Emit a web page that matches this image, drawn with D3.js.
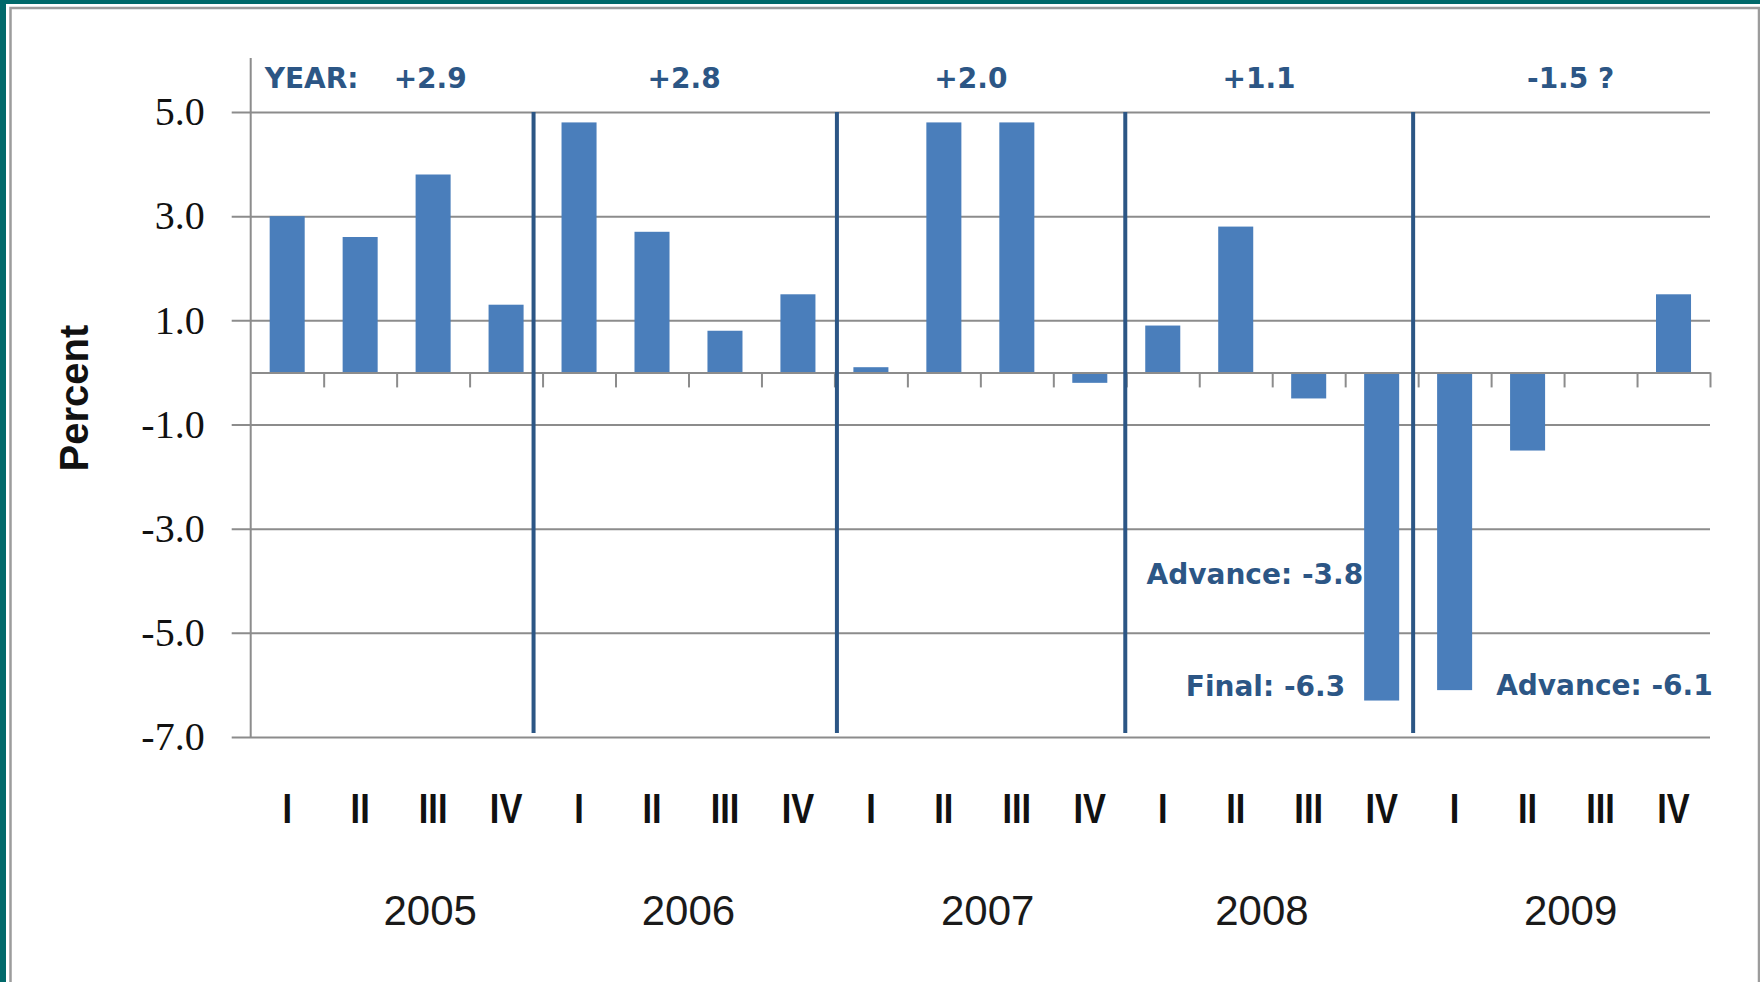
<!DOCTYPE html>
<html>
<head>
<meta charset="utf-8">
<script src="https://cdn.jsdelivr.net/npm/d3@7"></script>
<style>
  body { margin: 0; background: #fff; }
  svg { display: block; }
</style>
</head>
<body>
<svg id="chart"></svg>
<script>
// quarterly real GDP growth, annualized percent
const years = ["2005", "2006", "2007", "2008", "2009"];
const quarters = ["I", "II", "III", "IV"];
const growth = [3.0, 2.6, 3.8, 1.3, 4.8, 2.7, 0.8, 1.5, 0.1, 4.8, 4.8, -0.2, 0.9, 2.8, -0.5, -6.3, -6.1, -1.5, null, 1.5];
const yearTotals = ["+2.9", "+2.8", "+2.0", "+1.1", "-1.5 ?"];
const yTicks = [5, 3, 1, -1, -3, -5, -7];
const yTickLabels = ["5.0", "3.0", "1.0", "-1.0", "-3.0", "-5.0", "-7.0"];
const noteText = ["Advance: -3.8", "Final: -6.3", "Advance: -6.1"];
const noteValue = [-3.8, -6.3, -6.1];
const noteQuarter = [15, 15, 16];

const W = 1760, H = 982;
const plotLeft = 250.7, plotRight = 1710, plotTop = 112, plotBottom = 737;
const blue = "#4a7ebb", navy = "#2c5685", grid = "#8c8c8c";

const keys = [];
years.forEach((yr) => quarters.forEach((q) => keys.push(yr + "-" + q)));

const svg = d3.select("#chart").attr("width", W).attr("height", H);

// frame
svg.append("rect").attr("width", W).attr("height", H).attr("fill", "#00696a");
svg.append("rect").attr("x", 6).attr("y", 4).attr("width", W - 6).attr("height", H - 4).attr("fill", "#fff");
svg.append("path")
  .attr("d", `M10.5,${H + 5}V8H1759V${H + 5}`)
  .attr("fill", "none").attr("stroke", "#9c9c9c").attr("stroke-width", 2.5);

const x = d3.scaleBand().domain(keys).range([plotLeft, plotRight]).paddingInner(0.52).paddingOuter(0.26);
const xi = d3.scaleLinear().domain([0, keys.length]).range([plotLeft, plotRight]);
const y = d3.scaleLinear().domain([-7, 5]).range([plotBottom, plotTop]);

// gridlines + y labels
const gy = svg.append("g")
  .attr("transform", `translate(${plotLeft - 19},0)`)
  .call(d3.axisLeft(y).tickValues(yTicks)
    .tickFormat((d, i) => yTickLabels[i])
    .tickSize(-(plotRight - plotLeft + 19)).tickPadding(27));
gy.select(".domain").remove();
gy.selectAll(".tick line").attr("stroke", grid).attr("stroke-width", 2);
gy.selectAll(".tick text")
  .attr("fill", "#111")
  .style("font-family", "'Liberation Serif', serif")
  .style("font-size", "40px");

// left axis line
svg.append("line")
  .attr("x1", plotLeft).attr("x2", plotLeft).attr("y1", 58).attr("y2", plotBottom)
  .attr("stroke", grid).attr("stroke-width", 2);

// bars
svg.append("g").selectAll("rect")
  .data(growth.map((v, i) => ({ key: keys[i], v: v })).filter((d) => d.v !== null))
  .join("rect")
  .attr("x", (d) => x(d.key))
  .attr("width", x.bandwidth())
  .attr("y", (d) => y(Math.max(0, d.v)))
  .attr("height", (d) => Math.abs(y(d.v) - y(0)))
  .attr("fill", blue);

// zero axis with downward ticks
const gx = svg.append("g")
  .attr("transform", `translate(0,${y(0)})`)
  .call(d3.axisBottom(xi).tickValues(d3.range(1, keys.length + 1))
    .tickSize(15).tickSizeOuter(0).tickFormat(""));
gx.selectAll("path, line").attr("stroke", grid).attr("stroke-width", 2);

// year separators (hand placed in the original, slightly off the boundaries)
const sepShift = [-9, 2.5, -1, -5];
svg.append("g").selectAll("line")
  .data(d3.range(1, years.length))
  .join("line")
  .attr("x1", (k) => xi(k * 4) + sepShift[k - 1])
  .attr("x2", (k) => xi(k * 4) + sepShift[k - 1])
  .attr("y1", plotTop).attr("y2", plotBottom - 4)
  .attr("stroke", navy).attr("stroke-width", 4);

// quarter labels, tall and narrow
svg.append("g").selectAll("text")
  .data(keys)
  .join("text")
  .attr("transform", (d) => `translate(${x(d) + x.bandwidth() / 2},823) scale(0.8,1)`)
  .attr("text-anchor", "middle")
  .attr("fill", "#111")
  .style("font-family", "'Liberation Sans', sans-serif")
  .style("font-weight", "bold")
  .style("font-size", "43px")
  .text((d) => d.split("-")[1]);

// year labels
const yearShift = [0.46, 0, 0.1, -0.14, 0.09];
svg.append("g").selectAll("text")
  .data(years)
  .join("text")
  .attr("x", (d, i) => xi(i * 4 + 2 + yearShift[i]))
  .attr("y", 925)
  .attr("text-anchor", "middle")
  .attr("fill", "#1a1a1a")
  .style("font-family", "'Liberation Sans', sans-serif")
  .style("font-size", "42px")
  .text((d) => d);

// annual growth on top
const noteFont = "'DejaVu Sans', sans-serif";
const totalShift = [0.46, -0.06, -0.13, -0.18, 0.09];
svg.append("text")
  .attr("x", plotLeft + 14).attr("y", 88)
  .attr("fill", navy)
  .style("font-family", noteFont).style("font-weight", "bold").style("font-size", "28px")
  .text("YEAR:");
svg.append("g").selectAll("text")
  .data(yearTotals)
  .join("text")
  .attr("x", (d, i) => xi(i * 4 + 2 + totalShift[i]))
  .attr("y", 88)
  .attr("text-anchor", "middle")
  .attr("fill", navy)
  .style("font-family", noteFont).style("font-weight", "bold").style("font-size", "28px")
  .text((d) => d);

// estimate notes near the big drops
const noteSide = ["end", "end", "start"];
const noteGap = [1, 19, 24];
const noteDy = [14, -5, 5];
svg.append("g").selectAll("text")
  .data(noteText)
  .join("text")
  .attr("x", (d, i) => noteSide[i] === "end"
    ? x(keys[noteQuarter[i]]) - noteGap[i]
    : x(keys[noteQuarter[i]]) + x.bandwidth() + noteGap[i])
  .attr("y", (d, i) => y(noteValue[i]) + noteDy[i])
  .attr("text-anchor", (d, i) => noteSide[i])
  .attr("fill", navy)
  .style("font-family", noteFont).style("font-weight", "bold").style("font-size", "28px")
  .text((d) => d);

// axis title
svg.append("text")
  .attr("transform", "translate(88,398) rotate(-90)")
  .attr("text-anchor", "middle")
  .attr("fill", "#111")
  .style("font-family", "'Liberation Sans', sans-serif")
  .style("font-weight", "bold")
  .style("font-size", "40px")
  .text("Percent");
</script>
</body>
</html>
